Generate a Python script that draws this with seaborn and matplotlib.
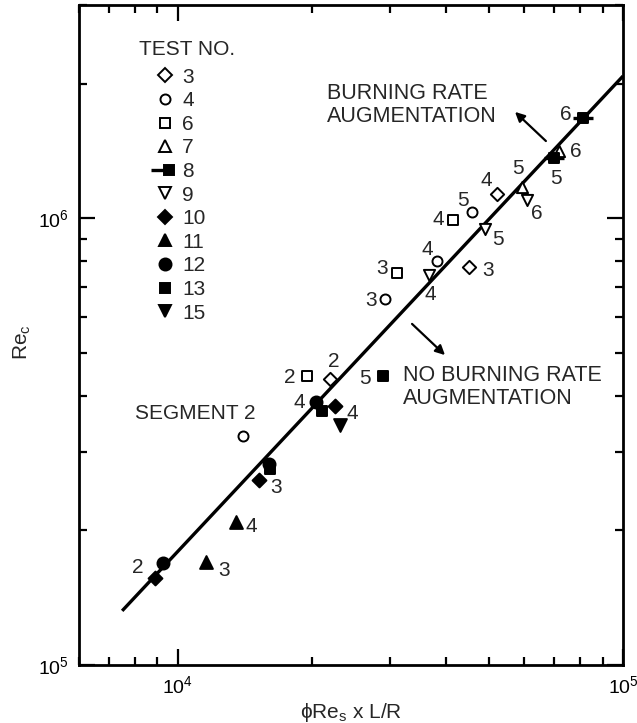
import matplotlib
matplotlib.use("Agg")
import matplotlib.pyplot as plt
from matplotlib.lines import Line2D
from matplotlib.legend_handler import HandlerTuple
from matplotlib.ticker import LogLocator, LogFormatterMathtext, NullFormatter
import seaborn as sns
import pandas as pd

# ---------------- data ----------------
test_no = [8, 7, 8, 7, 3, 9, 4, 6, 9, 4, 9, 3, 6, 4,
           6, 3, 13, 12, 13, 10, 15,
           4, 12, 13, 10, 11, 12, 10, 11]
phi_re = [81500, 71800, 70000, 59200, 52000, 60800, 45800, 41500, 49000, 38300, 36600, 45000, 31000, 29200,
          19500, 22000, 28900, 20400, 21100, 22500, 23200,
          14000, 16050, 16150, 15250, 13500, 9250, 8880, 11550]
re_c = [1.675e6, 1.411e6, 1.361e6, 1.175e6, 1.132e6, 1.099e6, 1.030e6, 9.92e5, 9.45e5, 8.03e5, 7.46e5, 7.76e5, 7.53e5, 6.61e5,
        4.43e5, 4.36e5, 4.43e5, 3.87e5, 3.70e5, 3.80e5, 3.45e5,
        3.25e5, 2.82e5, 2.75e5, 2.60e5, 2.09e5, 1.692e5, 1.565e5, 1.696e5]
segment = ["6", "6", "5", "5", "4", "6", "5", "4", "5", "4", "4", "3", "3", "3",
           "2", "2", "5", "4", "", "4", "",
           "", "", "", "3", "4", "2", "", "3"]

fit_x = [7500, 100000]
fit_y = [1.322e5, 2.08e6]

legend_tests = [3, 4, 6, 7, 8, 9, 10, 11, 12, 13, 15]

# ---------------- layout / style ----------------
label_offsets = [(-18, 4), (17, 0), (2, -20), (-4, 18), (-10, 14), (10, -14), (-9, 12), (-15, 0),
                 (13, -10), (-10, 11), (2, -19), (19, -3), (-14, 5), (-14, -2),
                 (-17, -1), (4, 18), (-18, -2), (-16, 0), (0, 0), (18, -8), (0, 0),
                 (0, 0), (0, 0), (0, 0), (17, -8), (16, -5), (-25, -5), (0, 0), (18, -8)]

marker_style = {
    3: ("D", False, 46), 4: ("o", False, 52), 6: ("s", False, 50), 7: ("^", False, 65),
    8: ("s", True, 58), 9: ("v", False, 65), 10: ("D", True, 50), 11: ("^", True, 85),
    12: ("o", True, 75), 13: ("s", True, 62), 15: ("v", True, 85),
}

sns.set_style("ticks")
plt.rcParams["font.family"] = ["Liberation Sans", "DejaVu Sans"]
plt.rcParams["mathtext.fontset"] = "custom"
plt.rcParams["mathtext.rm"] = "Liberation Sans"
plt.rcParams["mathtext.it"] = "Liberation Sans:italic"
plt.rcParams["mathtext.bf"] = "Liberation Sans:bold"

FS = 15
FS_NOTE = 15.5
FS_TICK = 14
fig = plt.figure(figsize=(6.37, 7.23), dpi=100)
L, R, B, T = 79, 623, 665, 5
ax = fig.add_axes([L / 637, (723 - B) / 723, (R - L) / 637, (B - T) / 723])

df = pd.DataFrame({"test": test_no, "x": phi_re, "y": re_c, "seg": segment})

# fit line
sns.lineplot(x=fit_x, y=fit_y, ax=ax, color="black", lw=2.4, solid_capstyle="butt")

handles = {}
for t in legend_tests:
    sub = df[df["test"] == t]
    m, filled, s = marker_style[t]
    fc = "black" if filled else "white"
    sns.scatterplot(data=sub, x="x", y="y", marker=m, s=s, facecolor=fc,
                    edgecolor="black", linewidth=1.4, ax=ax, zorder=3, legend=False)
    if t == 8:
        sns.scatterplot(data=sub, x="x", y="y", marker="_", s=200, color="black",
                        linewidth=2.4, ax=ax, zorder=3, legend=False)
        h = (Line2D([], [], marker="_", ms=14, mew=2.4, color="black", ls="none"),
             Line2D([], [], marker=m, ms=s ** 0.5, mfc=fc, mec="black", mew=1.4, ls="none"))
    else:
        h = Line2D([], [], marker=m, ms=s ** 0.5, mfc=fc, mec="black", mew=1.4, ls="none")
    handles[t] = h

# segment labels
for (xv, yv, sg), (dx, dy) in zip(zip(phi_re, re_c, segment), label_offsets):
    if sg:
        ax.annotate(sg, (xv, yv), xytext=(dx, dy), textcoords="offset pixels",
                    ha="center", va="center", fontsize=FS, zorder=4)

# axes
ax.set_xscale("log")
ax.set_yscale("log")
ax.set_xlim(6000, 100000)
ax.set_ylim(1e5, 3e6)
ax.xaxis.set_major_locator(LogLocator(base=10, numticks=10))
ax.yaxis.set_major_locator(LogLocator(base=10, numticks=10))
ax.xaxis.set_minor_locator(LogLocator(base=10, subs=range(2, 10), numticks=20))
ax.yaxis.set_minor_locator(LogLocator(base=10, subs=range(2, 10), numticks=20))
ax.xaxis.set_major_formatter(LogFormatterMathtext())
ax.yaxis.set_major_formatter(LogFormatterMathtext())
ax.xaxis.set_minor_formatter(NullFormatter())
ax.yaxis.set_minor_formatter(NullFormatter())
ax.tick_params(which="both", direction="in", top=True, right=True, color="black", width=1.6,
               labelsize=FS_TICK, labelcolor="black")
ax.tick_params(which="major", length=11.5, pad=7)
ax.tick_params(which="minor", length=5.5)
for sp in ax.spines.values():
    sp.set_linewidth(2.0)
    sp.set_color("black")
ax.set_xlabel("\u03d5Re$_\\mathregular{s}$ x L/R", fontsize=FS, labelpad=3)
ax.set_ylabel("Re$_\\mathregular{c}$", fontsize=FS)
ax.yaxis.set_label_coords(-0.085, 0.49)

# legend
ax.text(0.1985, 0.932, "TEST NO.", transform=ax.transAxes, ha="center", va="center", fontsize=FS)
leg = ax.legend([handles[t] for t in legend_tests], [str(t) for t in legend_tests],
                loc="upper left", bbox_to_anchor=(0.143, 0.905),
                frameon=False, fontsize=FS, handlelength=0.8,
                handletextpad=0.42, labelspacing=0.22, borderpad=0, borderaxespad=0,
                handler_map={tuple: HandlerTuple(ndivide=None, pad=0)})

# annotations
ax.text(0.4559, 0.8485, "BURNING RATE\nAUGMENTATION", transform=ax.transAxes,
        ha="left", va="center", fontsize=FS_NOTE, linespacing=1.08)
ax.annotate("", xy=(0.7978, 0.8409), xytext=(0.862, 0.791), xycoords="axes fraction",
            textcoords="axes fraction",
            arrowprops=dict(arrowstyle="-|>", color="black", lw=1.6, mutation_scale=14))
ax.text(0.5956, 0.4212, "NO BURNING RATE\nAUGMENTATION", transform=ax.transAxes,
        ha="left", va="center", fontsize=FS_NOTE, linespacing=1.18)
ax.annotate("", xy=(0.6765, 0.4667), xytext=(0.6085, 0.5197), xycoords="axes fraction",
            textcoords="axes fraction",
            arrowprops=dict(arrowstyle="-|>", color="black", lw=1.6, mutation_scale=14))
ax.text(0.1029, 0.3818, "SEGMENT 2", transform=ax.transAxes, ha="left", va="center", fontsize=FS)

fig.savefig("out.png", dpi=100, facecolor="white")
